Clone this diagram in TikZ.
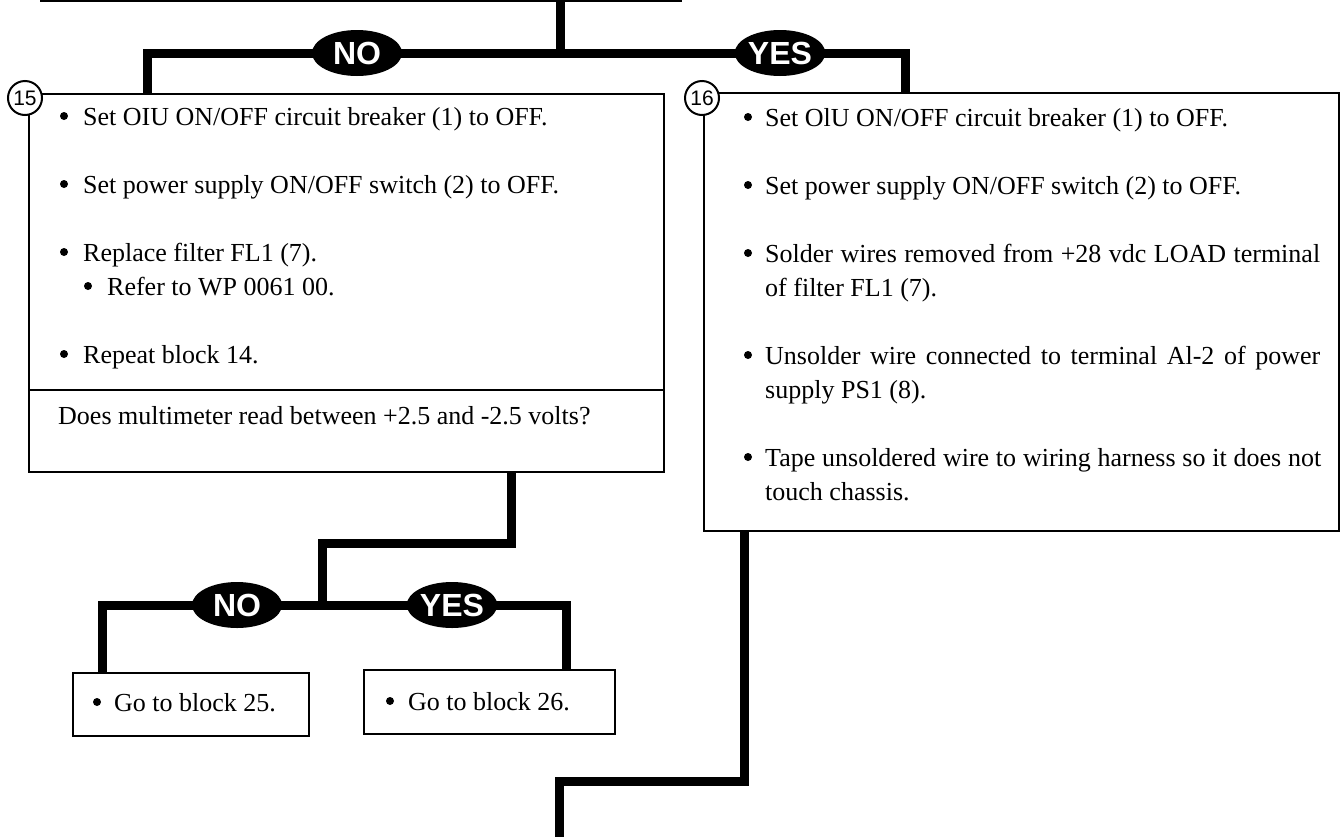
\documentclass[tikz,border=0pt]{standalone}
\usepackage{fontspec}
\setmainfont{Liberation Serif}
\newfontfamily\labelfont{Liberation Sans}
\usetikzlibrary{shapes.geometric,backgrounds}

\newcommand{\bodyfont}{\fontsize{26}{34}\selectfont}

\tikzset{
    flow/.style={line width=9pt, line join=miter},
    box/.style={draw, line width=2pt, fill=white, anchor=north west, inner sep=0pt},
    answer/.style={ellipse, fill=black, text=white, minimum width=90pt, minimum height=46pt,
        inner sep=0pt, font=\labelfont\bfseries\fontsize{32}{32}\selectfont},
    blocknum/.style={circle, draw, line width=2pt, fill=white, minimum size=34pt,
        inner sep=0pt, font=\labelfont\fontsize{21}{21}\selectfont},
    txt/.style={anchor=base west, inner sep=0pt, font=\bodyfont},
    dot/.style={circle, fill=black, minimum size=8pt, inner sep=0pt}
}

\begin{document}
\begin{tikzpicture}[x=1pt,y=-1pt]
    \useasboundingbox (0,0) rectangle (1340,836);

    \coordinate (topL) at (40,1);
    \coordinate (topR) at (682,1);
    \coordinate (top) at (560,0);

    % answers
    \node[answer] (no1) at (357,53) {NO};
    \node[answer] (yes1) at (780,53) {YES};
    \node[answer] (no2) at (237,605) {NO};
    \node[answer] (yes2) at (452,605) {YES};

    % Block 15
    \node[box, minimum width=635pt, minimum height=296pt] (blk15) at (28,93) {};
    \node[box, minimum width=635pt, minimum height=82pt] (q15) at (28,389) {};
    \node[blocknum] (n15) at (25,98) {15};

    \node[dot] (d15a) at (64,116) {};
    \node[txt] (t15a) at (83,125) {Set OIU ON/OFF circuit breaker (1) to OFF.};
    \node[dot] (d15b) at (64,184) {};
    \node[txt] (t15b) at (83,193) {Set power supply ON/OFF switch (2) to OFF.};
    \node[dot] (d15c) at (64,252) {};
    \node[txt] (t15c) at (83,261) {Replace filter FL1 (7).};
    \node[dot] (d15d) at (88,286) {};
    \node[txt] (t15d) at (107,295) {Refer to WP 0061 00.};
    \node[dot] (d15e) at (64,354) {};
    \node[txt] (t15e) at (83,363) {Repeat block 14.};
    \node[txt] (q15txt) at (58,424) {Does multimeter read between +2.5 and -2.5 volts?};

    % Block 16
    \node[box, minimum width=635pt, minimum height=438pt] (blk16) at (703,92) {};
    \node[blocknum] (n16) at (702,98) {16};

    \node[dot] (d16a) at (748,117) {};
    \node[txt] (t16a) at (765,126) {Set OlU ON/OFF circuit breaker (1) to OFF.};
    \node[dot] (d16b) at (748,185) {};
    \node[txt] (t16b) at (765,194) {Set power supply ON/OFF switch (2) to OFF.};
    \node[dot] (d16c) at (748,253) {};
    \node[txt, text width=555pt, align=justify] (t16c) at (765,262)
        {Solder wires removed from +28 vdc LOAD terminal\linebreak of filter FL1 (7).};
    \node[dot] (d16d) at (748,355) {};
    \node[txt, text width=555pt, align=justify] (t16d) at (765,364)
        {Unsolder wire connected to terminal Al-2 of power\linebreak supply PS1 (8).};
    \node[dot] (d16e) at (748,457) {};
    \node[txt, text width=556pt, align=justify] (t16e) at (765,466)
        {Tape unsoldered wire to wiring harness so it does not\linebreak touch chassis.};

    % Blocks 25 / 26
    \node[box, minimum width=236pt, minimum height=63pt] (go25) at (72,672) {};
    \node[dot] (d25) at (97,702) {};
    \node[txt] (t25) at (114,711) {Go to block 25.};
    \node[box, minimum width=251pt, minimum height=64pt] (go26) at (363,669) {};
    \node[dot] (d26) at (390,701) {};
    \node[txt] (t26) at (408,710) {Go to block 26.};

    \draw[line width=2pt] (topL) -- (topR);

    \coordinate (j15) at (147,93);
    \coordinate (j16) at (905,92);
    \coordinate (q15out) at (511,471);
    \coordinate (bend1) at (322,543);
    \coordinate (j25) at (102,672);
    \coordinate (j26) at (566,669);
    \coordinate (out16) at (744,530);
    \coordinate (bend2) at (559,781);
    \coordinate (exit) at (559,840);

    \begin{pgfonlayer}{background}
        \draw[flow] (top) -- (top |- no1);
        \draw[flow] (no1.center) -- (yes1.center);
        \draw[flow] (no1.center) -| (j15);
        \draw[flow] (yes1.center) -| (j16);

        \draw[flow] (q15out) |- (bend1) -- (bend1 |- no2);
        \draw[flow] (no2.center) -- (yes2.center);
        \draw[flow] (no2.center) -| (j25);
        \draw[flow] (yes2.center) -| (j26);

        \draw[flow] (out16) |- (bend2) -- (exit);
    \end{pgfonlayer}
\end{tikzpicture}
\end{document}
